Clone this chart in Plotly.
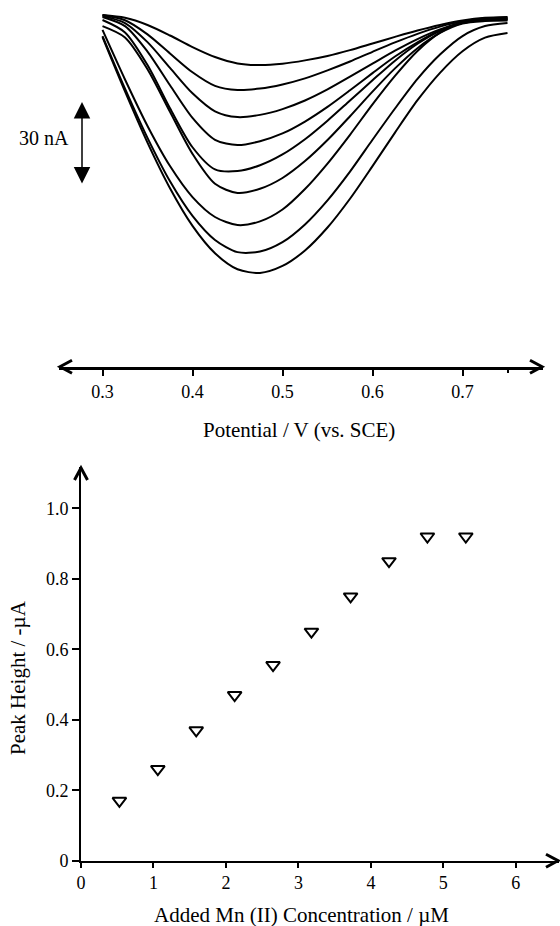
import plotly.graph_objects as go

W, H = 560, 926
FONT = "Liberation Serif, Times New Roman, DejaVu Serif, serif"

# ---------------- Data ----------------
# Top panel: stripping voltammograms (current relative to start, nA)
potential = [0.300, 0.325, 0.350, 0.375, 0.400, 0.425, 0.450, 0.475, 0.500, 0.525,
             0.550, 0.575, 0.600, 0.625, 0.650, 0.675, 0.700, 0.725, 0.750]

curve_1 = [0.0, -1.0, -3.6, -7.4, -11.6, -15.2, -17.5, -18.1, -17.6, -16.4,
           -14.8, -12.7, -10.3, -7.9, -5.6, -3.6, -2.0, -1.0, -0.7]
curve_2 = [0.0, -1.9, -7.0, -13.9, -20.7, -25.6, -27.1, -26.6, -25.1, -22.9,
           -20.0, -16.8, -13.3, -9.9, -6.8, -4.2, -2.3, -1.3, -0.9]
curve_3 = [-0.4, -2.9, -9.8, -19.1, -28.3, -34.8, -36.9, -36.1, -34.0, -30.9,
           -26.9, -22.3, -17.6, -12.9, -8.7, -5.2, -2.8, -1.6, -1.4]
curve_4 = [-0.7, -4.0, -13.2, -25.4, -37.2, -45.1, -47.0, -45.6, -42.8, -38.5,
           -33.2, -27.2, -21.0, -15.0, -9.9, -5.6, -2.7, -1.5, -1.3]
curve_5 = [-1.8, -6.3, -18.1, -33.7, -47.8, -55.8, -56.4, -54.3, -50.4, -44.9,
           -38.2, -30.9, -23.6, -16.5, -10.4, -5.7, -2.9, -1.8, -1.6]
curve_6 = [-4.0, -8.1, -19.6, -35.0, -50.2, -61.0, -64.3, -62.8, -58.9, -52.8,
           -45.2, -36.6, -27.7, -19.3, -12.0, -6.5, -3.1, -2.2, -2.0]
curve_7 = [-5.4, -23.3, -40.1, -54.6, -65.8, -73.0, -75.9, -74.6, -70.3, -62.9,
           -53.7, -43.3, -32.3, -22.0, -13.0, -6.4, -2.5, -1.8, -1.6]
curve_8 = [-7.6, -26.6, -44.4, -60.1, -72.6, -81.3, -85.7, -85.5, -82.1, -75.7,
           -67.0, -56.6, -45.1, -33.8, -23.1, -14.3, -7.6, -4.0, -2.9]
curve_9 = [-8.0, -27.6, -46.1, -62.6, -76.2, -86.1, -91.9, -93.2, -90.7, -85.1,
           -76.8, -66.4, -54.6, -42.5, -30.8, -20.9, -13.1, -8.2, -6.5]
curves = [curve_1, curve_2, curve_3, curve_4, curve_5,
          curve_6, curve_7, curve_8, curve_9]

top_ticks = [0.3, 0.4, 0.5, 0.6, 0.7]
top_ticktext = ["0.3", "0.4", "0.5", "0.6", "0.7"]
scale_bar_nA = 30

# Bottom panel: calibration
conc_uM = [0.53, 1.06, 1.59, 2.12, 2.65, 3.18, 3.72, 4.25, 4.78, 5.31]
peak_uA = [0.17, 0.26, 0.37, 0.47, 0.555, 0.65, 0.75, 0.85, 0.92, 0.92]

bot_xticks = [0, 1, 2, 3, 4, 5, 6]
bot_yticks = [0, 0.2, 0.4, 0.6, 0.8, 1.0]
bot_yticktext = ["0", "0.2", "0.4", "0.6", "0.8", "1.0"]

# ---------------- Layout helpers (pixel -> paper) ----------------
def px(x):
    return x / W

def py(y):
    return 1 - y / H

fig = go.Figure()

for c in curves:
    fig.add_trace(go.Scatter(x=potential, y=c, mode="lines",
                             line=dict(color="black", width=2, shape="spline", smoothing=0.8),
                             xaxis="x", yaxis="y", hoverinfo="skip"))

fig.add_trace(go.Scatter(x=conc_uM, y=peak_uA, mode="markers",
                         marker=dict(symbol="triangle-down-open", size=12, color="black",
                                     line=dict(width=2, color="black")),
                         xaxis="x2", yaxis="y2"))

# Top axis geometry
top_axis_y = 366.7
top_left, top_right = 59, 543
# 0.3 V at 102.5 px, 900 px per V
x_lo = 0.3 - (102.5 - top_left) / 900
x_hi = 0.3 + (top_right - 102.5) / 900
y_top_hi = 15 / 2.767
y_top_lo = -(top_axis_y - 15) / 2.767

# Bottom axis geometry
b_x0, b_x1 = 81, 559
b_y0, b_y1 = 860.7, 467
x2_hi = (b_x1 - b_x0) / 72.47
y2_hi = (b_y0 - b_y1) / 352.4

tickfont = dict(family=FONT, size=18, color="black")
titlefont = dict(family=FONT, size=21, color="black")

fig.update_layout(
    width=W, height=H, margin=dict(l=0, r=0, t=0, b=0),
    paper_bgcolor="white", plot_bgcolor="white", showlegend=False,
    font=dict(family=FONT, color="black"),
    xaxis=dict(domain=[px(top_left), px(top_right)], range=[x_lo, x_hi],
               showline=True, linecolor="black", linewidth=2.5, showgrid=False, zeroline=False,
               ticks="outside", ticklen=7, tickwidth=2, tickcolor="black",
               tickvals=top_ticks, ticktext=top_ticktext, tickfont=tickfont,
               minor=dict(tickvals=[0.75], ticks="outside", ticklen=4, tickwidth=2, tickcolor="black"),
               anchor="y", automargin=False, fixedrange=True),
    yaxis=dict(domain=[py(top_axis_y), 1], range=[y_top_lo, y_top_hi], visible=False,
               anchor="x", automargin=False),
    xaxis2=dict(domain=[px(b_x0), px(b_x1)], range=[0, x2_hi],
                showline=True, linecolor="black", linewidth=2, showgrid=False, zeroline=False,
                ticks="outside", ticklen=5, tickwidth=1.5, tickcolor="black",
                tickvals=bot_xticks, tickfont=tickfont, anchor="y2", automargin=False),
    yaxis2=dict(domain=[py(b_y0), py(b_y1)], range=[0, y2_hi],
                showline=True, linecolor="black", linewidth=2, showgrid=False, zeroline=False,
                ticks="outside", ticklen=7, tickwidth=1.5, tickcolor="black",
                tickvals=bot_yticks, ticktext=bot_yticktext, tickfont=tickfont,
                anchor="x2", automargin=False),
)

# Scale bar (double-headed arrow) for 30 nA
bar_x = 0.3 + (82 - 102.5) / 900
bar_top = -(102 - 15) / 2.767
fig.add_annotation(x=bar_x, y=bar_top, ax=bar_x, ay=bar_top - scale_bar_nA,
                   xref="x", yref="y", axref="x", ayref="y", text="",
                   showarrow=True, arrowhead=2, startarrowhead=2, arrowside="end+start",
                   arrowwidth=1.5, arrowsize=2.2, startarrowsize=2.2, arrowcolor="black")
fig.add_annotation(x=px(44), y=py(138), xref="paper", yref="paper",
                   text=f"{scale_bar_nA} nA", showarrow=False,
                   font=dict(family=FONT, size=20, color="black"),
                   xanchor="center", yanchor="middle")

# Axis titles
fig.add_annotation(x=px(299), y=py(430), xref="paper", yref="paper",
                   text="Potential / V (vs. SCE)", showarrow=False,
                   font=titlefont, xanchor="center", yanchor="middle")
fig.add_annotation(x=px(301), y=py(915), xref="paper", yref="paper",
                   text="Added Mn (II) Concentration / µM", showarrow=False,
                   font=titlefont, xanchor="center", yanchor="middle")
fig.add_annotation(x=px(18), y=py(678), xref="paper", yref="paper",
                   text="Peak Height / -µA", showarrow=False, textangle=-90,
                   font=titlefont, xanchor="center", yanchor="middle")

# Chevron arrowheads on axes
def chevron(tx, ty, direction, L=12, hw=6.5):
    if direction == "left":
        pts = [(tx + L, ty - hw), (tx, ty), (tx + L, ty + hw)]
    elif direction == "right":
        pts = [(tx - L, ty - hw), (tx, ty), (tx - L, ty + hw)]
    else:  # up
        pts = [(tx - hw, ty + L), (tx, ty), (tx + hw, ty + L)]
    path = "M {} {} L {} {} L {} {}".format(*[v for p in pts for v in (px(p[0]), py(p[1]))])
    fig.add_shape(type="path", path=path, xref="paper", yref="paper",
                  line=dict(color="black", width=3))

chevron(top_left + 1, top_axis_y, "left")
chevron(top_right - 1, top_axis_y, "right")
chevron(b_x0, b_y1 + 1, "up")
chevron(b_x1 - 1, b_y0, "right")

fig.write_html("out.html")
